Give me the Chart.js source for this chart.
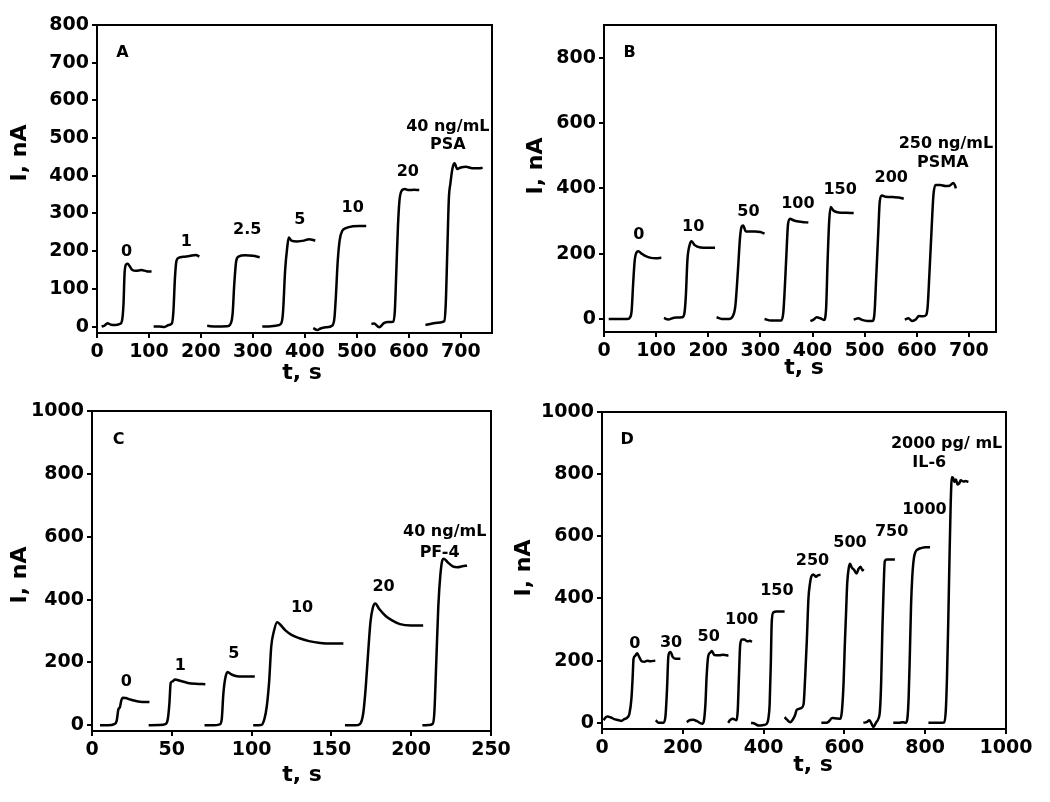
<!DOCTYPE html>
<html>
<head>
<meta charset="utf-8">
<script src="https://cdn.jsdelivr.net/npm/chart.js@4.4.1/dist/chart.umd.min.js"></script>
<style>
  body { margin: 0; background: #fff; }
  #wrap { position: relative; width: 1050px; height: 802px; overflow: hidden; }
  canvas { position: absolute; }
</style>
</head>
<body>
<div id="wrap">
  <canvas id="panelA" width="525" height="390" style="left:0;top:0"></canvas>
  <canvas id="panelB" width="550" height="390" style="left:500px;top:0"></canvas>
  <canvas id="panelC" width="525" height="412" style="left:0;top:390px"></canvas>
  <canvas id="panelD" width="550" height="412" style="left:500px;top:390px"></canvas>
</div>
<script>
// ---- panel A : PSA, each trace is [t (s), I (nA)]
const tracesA = [
  [[9,0],[15,3],[20,9],[27,5],[35,4],[44,7],[48,15],[51,60],[53,140],[56,165],[59,167],[63,160],[68,150],[75,148],[85,150],[95,147],[105,146]],
  [[109,0],[120,0],[130,-1],[138,4],[144,8],[147,40],[150,130],[153,175],[158,183],[165,185],[178,187],[190,190],[197,186]],
  [[212,2],[230,0],[250,1],[256,5],[261,35],[264,110],[268,175],[273,186],[285,189],[300,188],[313,184]],
  [[318,0],[335,1],[350,4],[355,10],[358,40],[362,150],[366,210],[369,236],[374,228],[385,226],[398,228],[408,232],[420,228]],
  [[416,-4],[424,-9],[430,-5],[440,-2],[453,3],[457,25],[460,90],[463,170],[467,230],[472,254],[480,262],[492,266],[505,267],[518,267]],
  [[528,7],[533,8],[543,-2],[552,9],[560,12],[570,13],[573,40],[576,150],[579,265],[582,335],[587,362],[592,365],[600,362],[610,363],[620,362]],
  [[632,4],[645,8],[660,11],[668,14],[671,60],[674,200],[677,340],[680,380],[684,420],[688,433],[693,418],[700,422],[710,424],[722,420],[735,420],[742,421]]
];
const labelTextA = ['0', '1', '2.5', '5', '10', '20', '40 ng/mL', 'PSA', 'A'];
const labelTA = [57, 172, 289, 390, 492, 598, 675, 675, 49];
const labelIA = [199, 225, 256, 283, 314, 411, 530, 482, 725];
const xTicksA = [0, 100, 200, 300, 400, 500, 600, 700];
const yTicksA = [0, 100, 200, 300, 400, 500, 600, 700, 800];

// ---- panel B : PSMA
const tracesB = [
  [[9,0],[25,0],[45,0],[50,5],[53,25],[56,110],[59,180],[63,205],[66,207],[72,200],[80,192],[90,187],[100,186],[110,187]],
  [[115,3],[123,-2],[135,4],[150,5],[154,15],[157,70],[160,180],[164,225],[168,238],[174,226],[185,219],[200,218],[213,218]],
  [[216,5],[226,0],[240,0],[247,8],[252,40],[257,150],[261,250],[264,282],[267,286],[272,268],[280,268],[290,268],[300,266],[308,261]],
  [[308,0],[320,-5],[340,-5],[344,20],[347,100],[350,200],[353,290],[357,307],[362,303],[370,299],[380,297],[392,295]],
  [[396,-7],[402,-2],[408,5],[415,2],[422,-3],[426,30],[429,180],[432,300],[435,343],[440,332],[450,326],[465,325],[479,324]],
  [[479,-2],[488,2],[495,-3],[505,-6],[515,-6],[519,20],[522,120],[526,260],[529,360],[533,378],[540,374],[555,373],[565,372],[575,368]],
  [[577,-2],[584,2],[591,-6],[598,-2],[604,9],[612,8],[618,12],[621,40],[624,130],[628,260],[632,380],[636,410],[645,410],[655,407],[663,408],[670,416],[673,410],[675,400]]
];
const labelTextB = ['0', '10', '50', '100', '150', '200', '250 ng/mL', 'PSMA', 'B'];
const labelTB = [67, 171, 277, 372, 453, 551, 656, 650, 49];
const labelIB = [256, 281, 327, 353, 394, 432, 537, 479, 816];
const xTicksB = [0, 100, 200, 300, 400, 500, 600, 700];
const yTicksB = [0, 200, 400, 600, 800];

// ---- panel C : PF-4
const tracesC = [
  [[5,0],[10,0],[14,4],[15.5,15],[16.5,50],[17.5,58],[18.3,78],[19.3,88],[21,87],[24,82],[27,78],[30,75],[36,74]],
  [[35.5,0],[42,1],[46,4],[47.5,20],[48.5,70],[49.3,135],[50.5,140],[52,146],[55,142],[60,135],[65,132],[71,131]],
  [[70.5,0],[76,0],[80,3],[81.3,20],[82.3,100],[83.5,150],[85,170],[87,163],[90,157],[95,155],[102,155]],
  [[101,0],[106,1],[108,20],[109.5,60],[111,140],[112.3,250],[114,300],[116,328],[118,320],[121,303],[125,288],[130,277],[136,268],[143,262],[150,260],[157.5,260]],
  [[158.5,0],[165,0],[168,5],[170,40],[171.5,120],[173,230],[174.5,330],[176,375],[177.5,388],[180,370],[184,348],[188,334],[193,322],[200,318],[207.5,318]],
  [[207,0],[211,1],[213.5,5],[214.5,40],[215.7,200],[217,380],[218.3,480],[219.5,525],[220.5,530],[223,518],[226,506],[229,503],[232,506],[235,508]]
];
const labelTextC = ['0', '1', '5', '10', '20', '40 ng/mL', 'PF-4', 'C'];
const labelTC = [21.5, 55.3, 88.8, 131.6, 182.7, 221, 217.8, 16.7];
const labelIC = [138, 188, 228, 375, 440, 616, 549, 908];
const xTicksC = [0, 50, 100, 150, 200, 250];
const yTicksC = [0, 200, 400, 600, 800, 1000];

// ---- panel D : IL-6
const tracesD = [
  [[4,8],[8,16],[13,20],[22,17],[30,12],[40,9],[48,6],[55,12],[62,16],[68,30],[73,80],[76,150],[78,205],[82,215],[87,224],[92,212],[98,198],[105,196],[112,200],[120,198],[132,200]],
  [[133,8],[140,0],[152,0],[157,20],[161,110],[164,210],[167,226],[170,228],[175,212],[182,206],[194,206]],
  [[210,2],[218,9],[226,10],[235,5],[248,-3],[252,5],[256,60],[259,150],[263,215],[268,226],[272,231],[278,218],[290,217],[300,219],[313,216]],
  [[312,0],[318,10],[324,13],[333,8],[336,40],[339,150],[342,250],[346,268],[352,268],[360,262],[366,264],[371,260]],
  [[369,0],[378,-3],[388,-9],[400,-7],[408,-3],[412,15],[415,60],[418,200],[420,320],[424,355],[432,358],[442,358],[452,358]],
  [[452,18],[458,10],[466,2],[472,10],[478,25],[482,42],[488,45],[494,48],[499,60],[503,150],[507,265],[511,400],[515,450],[518,470],[523,477],[530,470],[535,475],[541,476]],
  [[543,0],[556,0],[562,5],[570,15],[580,14],[590,13],[594,40],[598,130],[601,250],[604,350],[607,450],[611,500],[614,512],[618,500],[624,492],[630,480],[635,495],[640,502],[645,490],[647,495]],
  [[647,0],[655,2],[662,8],[668,-5],[672,-14],[678,0],[684,13],[688,40],[691,130],[694,300],[697,430],[700,520],[705,525],[715,525],[725,525]],
  [[721,0],[735,0],[745,2],[752,0],[756,15],[759,80],[762,220],[765,380],[768,470],[772,530],[776,550],[782,558],[790,562],[800,565],[812,565]],
  [[808,0],[830,0],[847,1],[851,40],[854,150],[857,320],[860,520],[863,700],[866,790],[869,788],[872,775],[876,783],[880,767],[884,770],[888,780],[895,776],[900,778],[907,775]]
];
const labelTextD = ['0', '30', '50', '100', '150', '250', '500', '750', '1000', '2000 pg/ mL', 'IL-6', 'D'];
const labelTD = [81, 171, 264, 346, 433, 521, 614, 717, 798, 853, 810, 62];
const labelID = [255, 258, 278, 330, 424, 521, 579, 614, 686, 899, 837, 912];
const xTicksD = [0, 200, 400, 600, 800, 1000];
const yTicksD = [0, 200, 400, 600, 800, 1000];

const FONT = 'DejaVu Sans';

// box, annotations and axis titles
const frameAndText = {
  id: 'frameAndText',
  afterDraw(chart, args, o) {
    const {ctx, chartArea: a} = chart;
    const x = chart.scales.x, y = chart.scales.y;
    ctx.save();
    ctx.lineWidth = 2;
    ctx.strokeStyle = '#000';
    ctx.strokeRect(a.left, a.top, a.right - a.left, a.bottom - a.top);
    ctx.fillStyle = '#000';
    ctx.textAlign = 'center';
    ctx.textBaseline = 'middle';
    ctx.font = 'bold 16px "' + FONT + '"';
    o.texts.forEach((txt, i) => {
      ctx.fillText(txt, x.getPixelForValue(o.ts[i]), y.getPixelForValue(o.is[i]));
    });
    ctx.font = 'bold 22px "' + FONT + '"';
    ctx.fillText('t, s', o.xTitle[0], o.xTitle[1]);
    ctx.translate(o.yTitle[0], o.yTitle[1]);
    ctx.rotate(-Math.PI / 2);
    ctx.fillText('I, nA', 0, 0);
    ctx.restore();
  }
};

function makePanel(id, traces, xr, yr, xTicks, yTicks, box, texts, ts, is, xTitle, yTitle) {
  const cv = document.getElementById(id);
  const tickFont = {family: FONT, weight: 'bold', size: 19};
  const axis = (ticks, min, max) => ({
    type: 'linear', min: min, max: max,
    afterBuildTicks: s => { s.ticks = ticks.map(v => ({value: v})); },
    grid: {drawOnChartArea: false, tickLength: 5, lineWidth: 2, color: '#000'},
    border: {color: '#000', width: 2},
    ticks: {font: tickFont, color: '#000', padding: 3, callback: v => String(v)}
  });
  const xAxis = axis(xTicks, xr[0], xr[1]);
  xAxis.afterFit = s => { s.height = cv.height - box.bottom; };
  const yAxis = axis(yTicks, yr[0], yr[1]);
  yAxis.afterFit = s => { s.width = box.left; };

  new Chart(cv, {
    type: 'line',
    data: {
      datasets: traces.map(tr => ({
        data: tr,
        borderColor: '#000',
        borderWidth: 2.5,
        pointRadius: 0,
        cubicInterpolationMode: 'monotone',
        fill: false
      }))
    },
    options: {
      responsive: false,
      animation: false,
      layout: {padding: {top: box.top, right: cv.width - box.right, bottom: 0, left: 0}},
      scales: {x: xAxis, y: yAxis},
      plugins: {
        legend: {display: false},
        tooltip: {enabled: false},
        frameAndText: {texts: texts, ts: ts, is: is, xTitle: xTitle, yTitle: yTitle}
      }
    },
    plugins: [frameAndText]
  });
}

makePanel('panelA', tracesA, [0, 760], [-17, 800], xTicksA, yTicksA,
  {left: 97, top: 25, right: 492, bottom: 333},
  labelTextA, labelTA, labelIA, [302, 373], [20, 153]);
makePanel('panelB', tracesB, [0, 752], [-40, 900], xTicksB, yTicksB,
  {left: 104, top: 25, right: 496, bottom: 332},
  labelTextB, labelTB, labelIB, [304, 368], [36, 166]);
makePanel('panelC', tracesC, [0, 250], [-18, 1000], xTicksC, yTicksC,
  {left: 92, top: 21, right: 491, bottom: 341},
  labelTextC, labelTC, labelIC, [302, 385], [20, 185]);
makePanel('panelD', tracesD, [0, 1000], [-20, 1000], xTicksD, yTicksD,
  {left: 102, top: 22, right: 506, bottom: 339},
  labelTextD, labelTD, labelID, [313, 375], [24, 178]);
</script>
</body>
</html>
